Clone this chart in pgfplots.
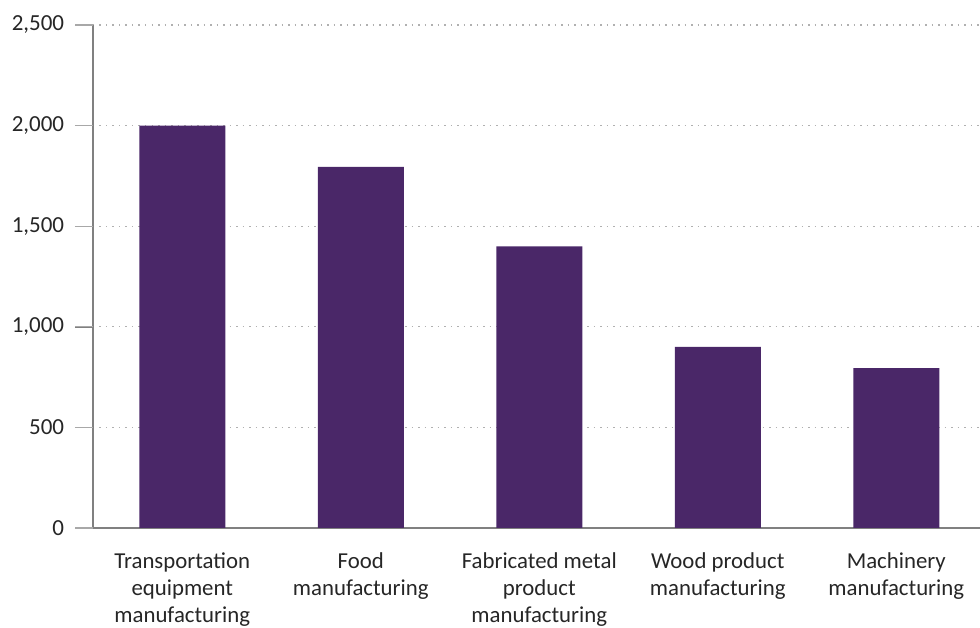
\documentclass[border=0pt]{standalone}
\usepackage{pgfplots}
\pgfplotsset{compat=1.18}
\usepackage{fontspec}
\setmainfont{Carlito}
\definecolor{barpurple}{HTML}{4A2768}
\definecolor{axisgray}{HTML}{808080}
\definecolor{tickgray}{HTML}{A8A8A8}
\definecolor{gridgray}{HTML}{B0B0B0}
\definecolor{labelgray}{HTML}{262626}
\begin{document}
\fontsize{23}{27}\selectfont
\begin{tikzpicture}[x=1pt,y=1pt]
\useasboundingbox (0,0) rectangle (980,628);
\begin{axis}[
  at={(93pt,100pt)}, anchor=south west,
  scale only axis, width=887pt, height=503pt,
  xmin=-0.5, xmax=4.469, ymin=0, ymax=2500,
  axis x line=bottom, axis y line=left,
  axis line style={-},
  x axis line style={draw=axisgray, line width=1.3pt},
  y axis line style={draw=axisgray, line width=1.3pt},
  ytick={0,500,1000,1500,2000,2500},
  xtick={0,1,2,3,4},
  xticklabels={{Transportation\\equipment\\manufacturing},{Food\\manufacturing},{Fabricated metal\\product\\manufacturing},{Wood product\\manufacturing},{Machinery\\manufacturing}},
  xticklabel style={align=center, font=\fontsize{22.8}{27}\selectfont, text=labelgray, yshift=1pt},
  yticklabel style={font=\fontsize{23}{27}\selectfont, text=labelgray, xshift=-3pt},
  major x tick style={draw=none},
  tick align=outside, major tick length=18pt,
  ymajorgrids,
  grid style={dash pattern=on 1.5pt off 5pt, draw=gridgray, line width=1.3pt},
  /pgf/number format/.cd, 1000 sep={,}, assume math mode=true,
  /pgfplots/.cd,
  ybar, bar width=86pt,
]
\addplot[fill=barpurple, draw=none] coordinates {(0,2000) (1,1795) (2,1400) (3,900) (4,795)};
\pgfplotsinvokeforeach{0,500,1000,1500,2000,2500}{
  \coordinate (tk#1) at (axis cs:-0.5,#1);
}
\end{axis}
\foreach \v in {0,500,1000,1500,2000,2500}{
  \draw[tickgray, line width=1.3pt] (tk\v) -- ++(-18,0);
}
\end{tikzpicture}
\end{document}
